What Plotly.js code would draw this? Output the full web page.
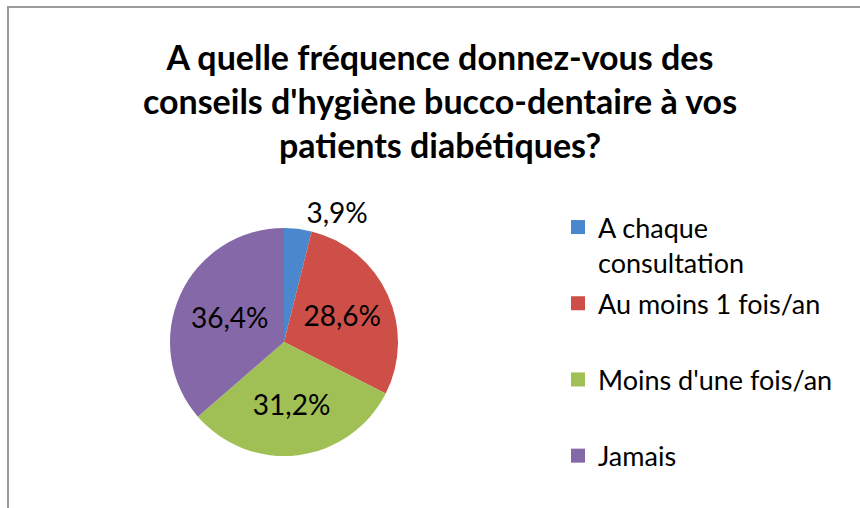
<!DOCTYPE html>
<html>
<head>
<meta charset="utf-8">
<script src="https://cdn.plot.ly/plotly-3.0.1.min.js"></script>
<style>html,body{margin:0;padding:0;background:#fff;}#chart{width:860px;height:508px;}</style>
</head>
<body>
<div id="chart"></div>
<script>
// Data
const categories = ["A chaque consultation", "Au moins 1 fois/an", "Moins d'une fois/an", "Jamais"];
const legendLabels = ["A chaque<br>consultation", "Au moins 1 fois/an<br> ", "Moins d'une fois/an<br> ", "Jamais"];
const values = [3.9, 28.6, 31.2, 36.4];
const colors = ["#4A87CC", "#CD4F47", "#A0C056", "#8568A8"];
const labelPositions = ["outside", "inside", "inside", "inside"];

const pctText = values.map(v => v.toFixed(1).replace('.', ',') + '%');

const FONT = "Lato, Calibri, Carlito, 'Open Sans', sans-serif";

const pie = {
  type: 'pie',
  labels: categories,
  values: values,
  text: pctText,
  textinfo: 'text',
  textposition: labelPositions,
  insidetextorientation: 'horizontal',
  textfont: {family: FONT, size: 28, color: '#000'},
  insidetextfont: {family: FONT, size: 28, color: '#000'},
  outsidetextfont: {family: FONT, size: 28, color: '#000'},
  marker: {colors: colors, line: {width: 0}},
  sort: false,
  direction: 'clockwise',
  rotation: 0,
  showlegend: false,
  hoverinfo: 'label+text',
  automargin: false,
  domain: {x: [170/860, 398/860], y: [1 - 456/508, 1 - 228/508]}
};

// legend entries, one per category
const legendTraces = categories.map((c, i) => ({
  type: 'scatter',
  mode: 'markers',
  x: [null], y: [null],
  name: legendLabels[i],
  legendgroup: 'g' + i,
  marker: {symbol: 'square', size: 14, color: colors[i]},
  hoverinfo: 'skip'
}));

const layout = {
  width: 860, height: 508,
  margin: {l: 0, r: 0, t: 0, b: 0, autoexpand: false},
  paper_bgcolor: '#fff', plot_bgcolor: '#fff',
  font: {family: FONT, color: '#000'},
  title: {
    text: "<b>A quelle fréquence donnez-vous des<br>conseils d'hygiène bucco-dentaire à vos<br>patients diabétiques?</b>",
    font: {family: FONT, size: 34, color: '#000'},
    x: 440/860, xanchor: 'center',
    y: 1 - 70/508, yanchor: 'middle',
    xref: 'paper', yref: 'paper'
  },
  xaxis: {visible: false},
  yaxis: {visible: false},
  showlegend: true,
  legend: {
    x: 558/860, xanchor: 'left',
    y: 1 - 203/508, yanchor: 'top',
    font: {family: FONT, size: 27, color: '#000'},
    valign: 'top',
    tracegroupgap: 3,
    bgcolor: 'rgba(0,0,0,0)',
    itemclick: false, itemdoubleclick: false
  },
  shapes: [
    {type: 'line', xref: 'paper', yref: 'paper', x0: 8/860, y0: 0, x1: 8/860, y1: 1 - 7/508, line: {color: '#9c9c9c', width: 2}},
    {type: 'line', xref: 'paper', yref: 'paper', x0: 7/860, y0: 1 - 7/508, x1: 1, y1: 1 - 7/508, line: {color: '#9c9c9c', width: 2}}
  ]
};

Plotly.newPlot('chart', [pie].concat(legendTraces), layout, {displayModeBar: false, staticPlot: true});
</script>
</body>
</html>
